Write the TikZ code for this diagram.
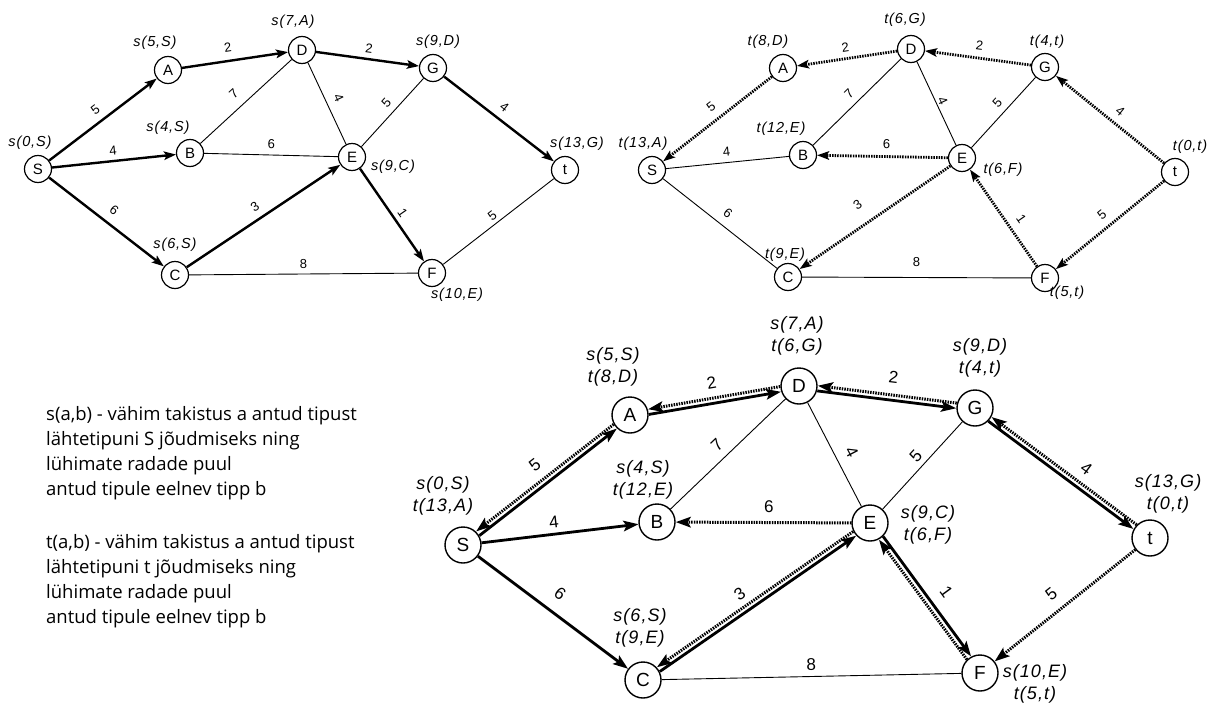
\documentclass[tikz,border=0pt]{standalone}
\usepackage{fontspec}
\setmainfont{Liberation Sans}
\newfontfamily\labfont[LetterSpace=6]{Liberation Sans}
\newfontfamily\legfont{Open Sans}
\usetikzlibrary{arrows.meta}
\begin{document}
\begin{tikzpicture}[x=1pt,y=-1pt,
  va/.style={circle,draw,line width=1.2pt,minimum size=27pt,inner sep=0pt,font=\fontsize{15}{15}\selectfont},
  vb/.style={circle,draw,line width=1.4pt,minimum size=36pt,inner sep=0pt,font=\fontsize{19}{19}\selectfont},
  la/.style={font=\fontsize{14.5}{16}\selectfont\labfont\itshape,inner sep=0pt},
  lb/.style={font=\fontsize{18}{22}\selectfont\labfont\itshape,inner sep=0pt,align=center},
  wa/.style={font=\fontsize{13}{13}\selectfont,sloped,inner sep=0pt},
  wb/.style={font=\fontsize{17}{17}\selectfont,sloped,inner sep=0pt},
  thinA/.style={line width=0.9pt},
  thinB/.style={line width=0.9pt},
  sarrA/.style={line width=2.4pt,-{Stealth[length=12pt,width=8.5pt,inset=2.5pt]}},
  darrA/.style={line width=2.8pt,dash pattern=on 1.5pt off 1.1pt,-{Stealth[length=12pt,width=8.5pt,inset=2.5pt]}},
  sarrB/.style={line width=2.8pt,-{Stealth[length=15pt,width=10.5pt,inset=3pt]}},
  darrB/.style={line width=3pt,dash pattern=on 1.5pt off 1.1pt,-{Stealth[length=15pt,width=10.5pt,inset=3pt]}},
  leg/.style={font=\fontsize{18.5}{18.5}\selectfont\legfont,inner sep=0pt,anchor=base west}
]
\useasboundingbox[fill=white] (0,0) rectangle (1212,704);

% ---------- graph 1 ----------
\node[va] (S1) at (38,169) {S};
\node[va] (A1) at (168,70) {A};
\node[va] (D1) at (302,50) {D};
\node[va] (B1) at (190,153) {B};
\node[va] (E1) at (352,157) {E};
\node[va] (C1) at (175,275) {C};
\node[va] (G1) at (433,68) {G};
\node[va] (t1) at (565,170) {t};
\node[va] (F1) at (432,273) {F};

\node[la] (lS1) at (30,143) {s(0,S)};
\node[la] (lA1) at (155,43) {s(5,S)};
\node[la] (lD1) at (293,22) {s(7,A)};
\node[la] (lB1) at (168,128) {s(4,S)};
\node[la] (lE1) at (393,167) {s(9,C)};
\node[la] (lC1) at (175,245) {s(6,S)};
\node[la] (lG1) at (438,42) {s(9,D)};
\node[la] (lt1) at (577,144) {s(13,G)};
\node[la] (lF1) at (457,295) {s(10,E)};

\draw[sarrA] (S1) -- node[wa,pos=.5,above=7pt] {5} (A1);
\draw[sarrA] (S1) -- node[wa,pos=.5,above=4.5pt] {4} (B1);
\draw[sarrA] (S1) -- node[wa,pos=.49,above=8.5pt] {6} (C1);
\draw[sarrA] (A1) -- node[wa,pos=.45,above=7.5pt] {2} (D1);
\draw[thinA] (B1) -- node[wa,pos=.47,above=9pt] {7} (D1);
\draw[thinA] (B1) -- node[wa,pos=.5,above=5.5pt] {6} (E1);
\draw[thinA] (D1) -- node[wa,pos=.5,above=8pt] {4} (E1);
\draw[thinA] (E1) -- node[wa,pos=.53,above=6pt] {5} (G1);
\draw[sarrA] (C1) -- node[wa,pos=.49,above=7pt] {3} (E1);
\draw[thinA] (C1) -- node[wa,pos=.5,above=4.5pt] {8} (F1);
\draw[sarrA] (D1) -- node[wa,pos=.5,above=5pt] {2} (G1);
\draw[sarrA] (G1) -- node[wa,pos=.48,above=7pt] {4} (t1);
\draw[sarrA] (E1) -- node[wa,pos=.54,above=4pt] {1} (F1);
\draw[thinA] (F1) -- node[wa,pos=.49,above=3.5pt] {5} (t1);

% ---------- graph 2 ----------
\node[va] (S2) at (652,170) {S};
\node[va] (A2) at (783,68) {A};
\node[va] (B2) at (803,155) {B};
\node[va] (C2) at (788,277) {C};
\node[va] (D2) at (911,49) {D};
\node[va] (G2) at (1045,67) {G};
\node[va] (E2) at (962,158) {E};
\node[va] (t2) at (1175,172) {t};
\node[va] (F2) at (1045,278) {F};

\node[la] (lA2) at (768,42) {t(8,D)};
\node[la] (lS2) at (643,144) {t(13,A)};
\node[la] (lB2) at (781,129) {t(12,E)};
\node[la] (lC2) at (785,255) {t(9,E)};
\node[la] (lD2) at (905,20) {t(6,G)};
\node[la] (lG2) at (1047,42) {t(4,t)};
\node[la] (lt2) at (1190,147) {t(0,t)};
\node[la] (lE2) at (1003,170) {t(6,F)};
\node[la] (lF2) at (1067,293) {t(5,t)};

\draw[darrA] (A2) -- node[wa,pos=.48,above=8pt] {5} (S2);
\draw[thinA] (S2) -- node[wa,pos=.5,above=6pt] {4} (B2);
\draw[thinA] (S2) -- node[wa,pos=.5,above=8pt] {6} (C2);
\draw[darrA] (D2) -- node[wa,pos=.5,above=5pt] {2} (A2);
\draw[thinA] (B2) -- node[wa,pos=.5,above=6.5pt] {7} (D2);
\draw[darrA] (E2) -- node[wa,pos=.47,above=6pt] {6} (B2);
\draw[thinA] (D2) -- node[wa,pos=.5,above=2pt] {4} (E2);
\draw[thinA] (E2) -- node[wa,pos=.53,above=6pt] {5} (G2);
\draw[darrA] (G2) -- node[wa,pos=.5,above=6.5pt] {2} (D2);
\draw[darrA] (t2) -- node[wa,pos=.48,above=7pt] {4} (G2);
\draw[darrA] (E2) -- node[wa,pos=.54,above=14pt] {3} (C2);
\draw[thinA] (C2) -- node[wa,pos=.5,above=10pt] {8} (F2);
\draw[darrA] (F2) -- node[wa,pos=.41,above=8.5pt] {1} (E2);
\draw[darrA] (t2) -- node[wa,pos=.5,above=7pt] {5} (F2);

% ---------- graph 3 ----------
\node[vb] (S3) at (463,545) {S};
\node[vb] (A3) at (630,415) {A};
\node[vb] (B3) at (657,522) {B};
\node[vb] (C3) at (643,680) {C};
\node[vb] (D3) at (799,386) {D};
\node[vb] (G3) at (975,408) {G};
\node[vb] (E3) at (870,523) {E};
\node[vb] (t3) at (1150,538) {t};
\node[vb] (F3) at (980,673) {F};

\node[lb] (lA3) at (613,367) {s(5,S)\\t(8,D)};
\node[lb] (lS3) at (443,496) {s(0,S)\\t(13,A)};
\node[lb] (lB3) at (643,480) {s(4,S)\\t(12,E)};
\node[lb] (lC3) at (640,628) {s(6,S)\\t(9,E)};
\node[lb] (lD3) at (797,336) {s(7,A)\\t(6,G)};
\node[lb] (lG3) at (980,358) {s(9,D)\\t(4,t)};
\node[lb] (lE3) at (928,525) {s(9,C)\\t(6,F)};
\node[lb] (lt3) at (1168,494) {s(13,G)\\t(0,t)};
\node[lb] (lF3) at (1035,684) {s(10,E)\\t(5,t)};

% double edges
\draw[sarrB,transform canvas={shift={(1.6,2.1)}}] (S3) -- (A3);
\draw[darrB,transform canvas={shift={(-1.6,-2.1)}}] (A3) -- (S3);
\path (S3) -- node[wb,pos=.5,above=13pt] {5} (A3);

\draw[sarrB,transform canvas={shift={(0.4,2.6)}}] (A3) -- (D3);
\draw[darrB,transform canvas={shift={(-0.4,-2.6)}}] (D3) -- (A3);
\path (A3) -- node[wb,pos=.5,above=12pt] {2} (D3);

\draw[sarrB,transform canvas={shift={(-0.3,2.6)}}] (D3) -- (G3);
\draw[darrB,transform canvas={shift={(0.3,-2.6)}}] (G3) -- (D3);
\path (D3) -- node[wb,pos=.53,above=14pt] {2} (G3);

\draw[sarrB,transform canvas={shift={(-1.6,2.1)}}] (G3) -- (t3);
\draw[darrB,transform canvas={shift={(1.6,-2.1)}}] (t3) -- (G3);
\path (G3) -- node[wb,pos=.59,above=12pt] {4} (t3);

\draw[sarrB,transform canvas={shift={(1.5,2.1)}}] (C3) -- (E3);
\draw[darrB,transform canvas={shift={(-1.5,-2.1)}}] (E3) -- (C3);
\path (C3) -- node[wb,pos=.46,above=9.5pt] {3} (E3);

\draw[sarrB,transform canvas={shift={(2.1,-1.6)}}] (E3) -- (F3);
\draw[darrB,transform canvas={shift={(-2.1,1.6)}}] (F3) -- (E3);
\path (E3) -- node[wb,pos=.55,above=15pt] {1} (F3);

% single edges
\draw[sarrB] (S3) -- node[wb,pos=.47,above=5pt] {4} (B3);
\draw[sarrB] (S3) -- node[wb,pos=.47,above=12pt] {6} (C3);
\draw[thinB] (B3) -- node[wb,pos=.49,above=8pt] {7} (D3);
\draw[darrB] (E3) -- node[wb,pos=.47,above=8.5pt] {6} (B3);
\draw[thinB] (C3) -- node[wb,pos=.5,above=5.5pt] {8} (F3);
\draw[thinB] (D3) -- node[wb,pos=.55,above=10pt] {4} (E3);
\draw[thinB] (E3) -- node[wb,pos=.52,above=5pt] {5} (G3);
\draw[darrB] (t3) -- node[wb,pos=.52,above=10pt] {5} (F3);

% ---------- legend ----------
\node[leg] (L1) at (46,420) {s(a,b) - vähim takistus a antud tipust};
\node[leg] (L2) at (46,445) {lähtetipuni S jõudmiseks ning};
\node[leg] (L3) at (46,470) {lühimate radade puul};
\node[leg] (L4) at (46,495) {antud tipule eelnev tipp b};
\node[leg] (L5) at (46,548) {t(a,b) - vähim takistus a antud tipust};
\node[leg] (L6) at (46,573) {lähtetipuni t jõudmiseks ning};
\node[leg] (L7) at (46,598) {lühimate radade puul};
\node[leg] (L8) at (46,623) {antud tipule eelnev tipp b};
\end{tikzpicture}
\end{document}
